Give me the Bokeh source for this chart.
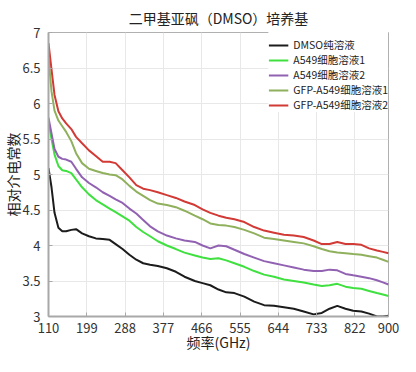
from bokeh.plotting import figure
from bokeh.models import FixedTicker, Legend, LegendItem, Range1d
from bokeh.embed import file_html
from bokeh.resources import INLINE

title_text = "二甲基亚砜（DMSO）培养基"
x_label = "频率(GHz)"
y_label = "相对介电常数"

freq = [110, 117, 124, 133, 142, 151, 163, 174, 188, 204, 220, 236, 252, 266, 282, 298,
        314, 330, 346, 364, 385, 406, 426, 450, 468, 486, 505, 523, 542, 565, 588, 611,
        634, 657, 680, 703, 726, 745, 763, 781, 800, 818, 837, 855, 873, 887, 900]

dmso = [5.09, 4.82, 4.46, 4.25, 4.20, 4.20, 4.22, 4.23, 4.17, 4.13, 4.10, 4.09, 4.08, 4.02, 3.95, 3.87,
        3.80, 3.75, 3.73, 3.71, 3.68, 3.63, 3.56, 3.50, 3.47, 3.44, 3.38, 3.34, 3.33, 3.28, 3.21, 3.16,
        3.15, 3.13, 3.11, 3.07, 3.03, 3.05, 3.11, 3.15, 3.11, 3.08, 3.07, 3.04, 3.00, 3.00, 3.01]

a549_1 = [5.75, 5.50, 5.28, 5.12, 5.06, 5.05, 5.02, 4.93, 4.82, 4.72, 4.64, 4.58, 4.52, 4.47, 4.41, 4.35,
          4.26, 4.19, 4.13, 4.06, 4.00, 3.95, 3.90, 3.86, 3.83, 3.81, 3.82, 3.79, 3.75, 3.70, 3.64, 3.59,
          3.56, 3.52, 3.50, 3.48, 3.45, 3.43, 3.44, 3.46, 3.42, 3.40, 3.39, 3.36, 3.33, 3.31, 3.29]

a549_2 = [5.80, 5.58, 5.36, 5.25, 5.22, 5.21, 5.18, 5.08, 4.96, 4.88, 4.82, 4.75, 4.70, 4.65, 4.60, 4.52,
          4.45, 4.36, 4.27, 4.20, 4.14, 4.10, 4.07, 4.05, 4.00, 3.96, 4.00, 3.99, 3.94, 3.88, 3.83, 3.78,
          3.75, 3.72, 3.69, 3.66, 3.64, 3.64, 3.66, 3.65, 3.60, 3.58, 3.56, 3.54, 3.51, 3.48, 3.45]

gfp_1 = [6.65, 6.17, 5.90, 5.76, 5.68, 5.60, 5.47, 5.30, 5.16, 5.08, 5.05, 5.02, 5.00, 4.99, 4.93, 4.84,
         4.76, 4.70, 4.64, 4.59, 4.57, 4.54, 4.49, 4.42, 4.37, 4.31, 4.29, 4.28, 4.26, 4.22, 4.17, 4.11,
         4.09, 4.07, 4.05, 4.03, 3.99, 3.95, 3.92, 3.90, 3.89, 3.88, 3.87, 3.85, 3.83, 3.80, 3.77]

gfp_2 = [6.85, 6.48, 6.12, 5.89, 5.79, 5.72, 5.64, 5.53, 5.44, 5.34, 5.26, 5.18, 5.18, 5.16, 5.06, 4.96,
         4.85, 4.80, 4.78, 4.75, 4.71, 4.67, 4.62, 4.57, 4.51, 4.46, 4.42, 4.39, 4.37, 4.33, 4.26, 4.21,
         4.18, 4.15, 4.14, 4.12, 4.07, 4.02, 4.02, 4.05, 4.02, 4.02, 4.01, 3.96, 3.93, 3.91, 3.89]

series_names = ["DMSO纯溶液", "A549细胞溶液1", "A549细胞溶液2", "GFP-A549细胞溶液1", "GFP-A549细胞溶液2"]
series_values = [dmso, a549_1, a549_2, gfp_1, gfp_2]
series_colors = ["#1c1c1c", "#3fe03f", "#9262b2", "#8fb05c", "#d23a36"]

x_ticks = [110, 199, 288, 377, 466, 555, 644, 733, 822, 900]
y_ticks = [3, 3.5, 4, 4.5, 5, 5.5, 6, 6.5, 7]
y_tick_labels = ["3", "3.5", "4", "4.5", "5", "5.5", "6", "6.5", "7"]

FONT = "Noto Sans CJK SC"

p = figure(width=400, height=356, output_backend="svg", toolbar_location=None,
           x_range=Range1d(110, 900), y_range=Range1d(3, 7),
           min_border_left=44, min_border_right=12, min_border_top=24, min_border_bottom=40)

p.title.text = title_text
p.title.align = "center"
p.title.text_font = FONT
p.title.text_font_size = "14px"
p.title.text_font_style = "normal"
p.title.text_color = "#222222"

p.outline_line_color = "#b0b0b0"
p.outline_line_width = 1

items = []
for name, vals, col in zip(series_names, series_values, series_colors):
    r = p.line(freq, vals, line_color=col, line_width=2)
    items.append(LegendItem(label=name, renderers=[r]))

p.xaxis.ticker = FixedTicker(ticks=x_ticks)
p.yaxis.ticker = FixedTicker(ticks=y_ticks)
p.yaxis.major_label_overrides = {t: l for t, l in zip(y_ticks, y_tick_labels)}
p.xaxis.major_label_overrides = {t: str(t) for t in x_ticks}

for ax in (p.xaxis[0], p.yaxis[0]):
    ax.axis_line_color = "#a8a8a8"
    ax.axis_line_width = 2
    ax.major_tick_in = 4
    ax.major_tick_out = 0
    ax.major_tick_line_color = "#a8a8a8"
    ax.minor_tick_line_color = None
    ax.major_label_text_font = FONT
    ax.major_label_text_font_size = "13px"
    ax.major_label_text_color = "#333333"
    ax.major_label_text_line_height = 0.9
    ax.axis_label_text_font = FONT
    ax.axis_label_text_font_size = "14px"
    ax.axis_label_text_font_style = "normal"
    ax.axis_label_text_color = "#222222"
    ax.axis_label_text_line_height = 0.9

p.xaxis.axis_label = x_label
p.yaxis.axis_label = y_label
p.xaxis.major_label_standoff = 6
p.xaxis.axis_label_standoff = -4
p.yaxis.major_label_standoff = 8
p.yaxis.axis_label_standoff = -4

p.xgrid.grid_line_color = "#e8e8e8"
p.ygrid.grid_line_color = "#e8e8e8"

legend = Legend(items=items, location="top_right")
legend.label_text_font = FONT
legend.label_text_font_size = "10.5px"
legend.label_text_color = "#222222"
legend.label_text_line_height = 0.9
legend.glyph_width = 20
legend.glyph_height = 10
legend.label_height = 10
legend.spacing = -3
legend.padding = 0
legend.margin = 0
legend.title = " "
legend.title_text_font = FONT
legend.title_text_font_size = "3px"
legend.title_standoff = 1
legend.border_line_color = None
legend.background_fill_color = "white"
legend.background_fill_alpha = 1
p.add_layout(legend)

open("out.html", "w").write(file_html(p, INLINE))
